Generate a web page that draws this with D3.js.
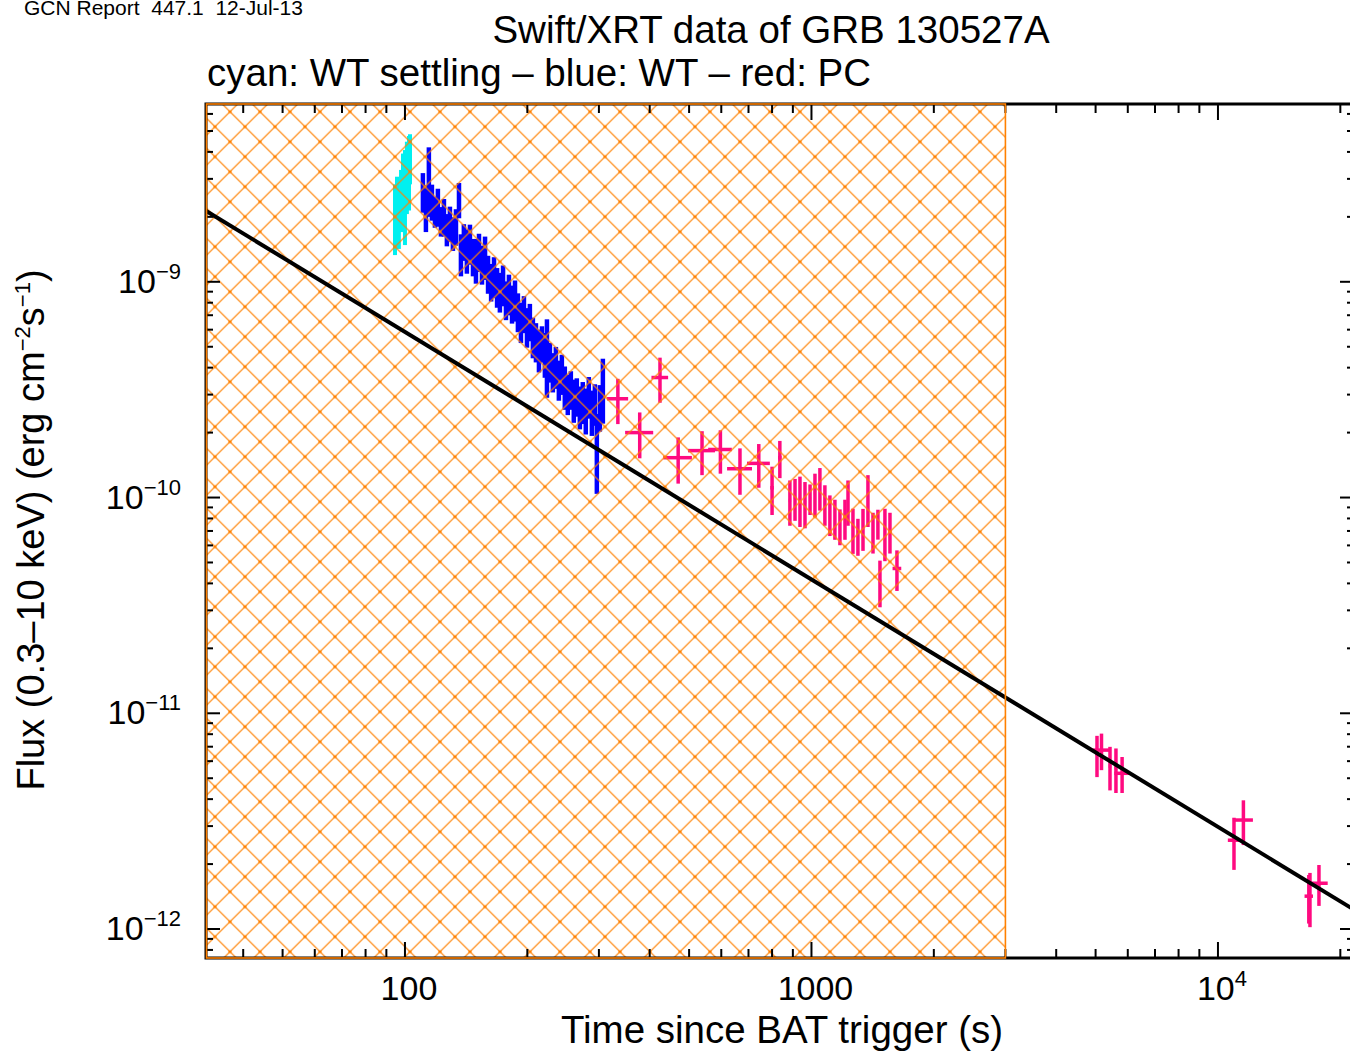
<!DOCTYPE html>
<html>
<head>
<meta charset="utf-8">
<script src="https://cdnjs.cloudflare.com/ajax/libs/d3/7.8.5/d3.min.js"></script>
<style>
  body { margin: 0; background: #ffffff; }
  svg { display: block; font-family: "Liberation Sans", Arial, sans-serif; }
</style>
</head>
<body>
<div id="chart"></div>
<script>
// WT settling (cyan)
const cyanTime = [94.5, 95.6, 96.6, 97.8, 98.9, 100.0, 101.1, 102.3, 102.9];
const cyanFlux = [2.08e-9, 2.37e-9, 2.02e-9, 2.50e-9, 2.93e-9, 2.78e-9, 3.26e-9, 3.44e-9, 3.83e-9];
const cyanErr = [0.75e-9, 0.7e-9, 0.6e-9, 0.8e-9, 1.0e-9, 1.3e-9, 1.2e-9, 1.3e-9, 1.0e-9];

// WT (blue)
const blueTime = [110.7, 112.6, 114.5, 116.5, 118.5, 120.5, 122.6, 124.7, 126.8, 129.0, 131.2, 133.5, 135.8, 137.3, 139.6,
    142.0, 144.5, 147.0, 149.5, 152.1, 154.7, 157.4, 160.1, 162.9, 165.6, 168.5, 171.2, 174.3, 177.2, 180.2, 183.4,
    186.5, 189.6, 192.9, 196.2, 199.6, 202.9, 206.4, 210.0, 213.6, 217.3, 220.9, 223.5, 227.3, 231.1, 235.1, 239.1,
    243.2, 247.3, 251.5, 255.9, 260.2, 264.7, 269.3, 273.8, 278.5, 283.3, 288.3, 293.2, 296.5, 301.6, 306.8];
const blueFlux = [2.64e-9, 2.25e-9, 3.10e-9, 2.37e-9, 2.13e-9, 2.25e-9, 1.92e-9, 2.02e-9, 1.76e-9, 1.88e-9, 1.69e-9,
    1.82e-9, 2.42e-9, 1.36e-9, 1.55e-9, 1.42e-9, 1.52e-9, 1.32e-9, 1.28e-9, 1.39e-9, 1.22e-9, 1.32e-9, 1.10e-9,
    1.01e-9, 1.07e-9, 9.58e-10, 9.1e-10, 9.8e-10, 8.34e-10, 8.89e-10, 8.0e-10, 8.34e-10, 7.34e-10, 6.6e-10, 7.18e-10,
    6.25e-10, 6.6e-10, 5.62e-10, 5.33e-10, 4.90e-10, 5.22e-10, 4.69e-10, 4.8e-10, 4.31e-10, 3.87e-10, 4.09e-10,
    3.56e-10, 3.79e-10, 3.30e-10, 3.06e-10, 3.20e-10, 2.87e-10, 2.97e-10, 2.67e-10, 2.81e-10, 2.58e-10, 2.97e-10,
    2.53e-10, 2.75e-10, 1.74e-10, 2.67e-10, 3.30e-10];
const blueErr = [0.55e-9, 0.55e-9, 1.1e-9, 0.45e-9, 0.35e-9, 0.45e-9, 0.3e-9, 0.4e-9, 0.3e-9, 0.35e-9, 0.3e-9, 0.35e-9,
    0.45e-9, 0.3e-9, 0.3e-9, 0.33e-9, 0.32e-9, 0.26e-9, 0.3e-9, 0.28e-9, 0.25e-9, 0.3e-9, 0.22e-9, 0.2e-9, 0.23e-9,
    2.0e-10, 1.9e-10, 2.1e-10, 1.7e-10, 1.9e-10, 1.6e-10, 1.8e-10, 1.5e-10, 1.4e-10, 1.4e-10, 1.3e-10, 1.3e-10,
    1.2e-10, 1.1e-10, 1.1e-10, 1.0e-10, 1.1e-10, 1.9e-10, 0.9e-10, 0.8e-10, 0.9e-10, 0.75e-10, 0.8e-10, 0.75e-10,
    0.65e-10, 0.65e-10, 0.65e-10, 0.6e-10, 0.6e-10, 0.62e-10, 0.62e-10, 0.65e-10, 0.6e-10, 0.6e-10, 0.7e-10,
    0.65e-10, 1.1e-10];

// PC (red)
const pcTime = [334, 424, 378, 470, 538, 597, 667, 742, 800, 836,
    885, 911, 937, 964, 992, 1020, 1049, 1079, 1110, 1142, 1175, 1209, 1230, 1265, 1301, 1339, 1377, 1417,
    1474, 1457, 1516, 1560, 1623,
    5040, 5170, 5425, 5611, 5810, 10950, 11550, 16840, 16730, 17720];
const pcTimeErr = [20, 20, 30, 38, 41, 40, 47, 48, 8, 8,
    6, 6, 6, 6, 6, 6, 6, 6, 6, 6, 6, 6, 6, 6, 6, 6, 6, 6,
    10, 6, 6, 6, 40,
    40, 250, 40, 40, 250, 375, 640, 60, 400, 900];
const pcFlux = [2.87e-10, 3.60e-10, 2.00e-10, 1.53e-10, 1.65e-10, 1.67e-10, 1.36e-10, 1.44e-10, 1.11e-10, 1.53e-10,
    9.7e-11, 1.0e-10, 9.9e-11, 9.5e-11, 9.9e-11, 1.05e-10, 1.12e-10, 9.4e-11, 8.43e-11, 8.07e-11, 7.41e-11, 8.07e-11,
    9.7e-11, 7.18e-11, 6.67e-11, 7.26e-11, 1.0e-10, 7.0e-11,
    4.1e-11, 7.58e-11, 6.97e-11, 7.0e-11, 4.69e-11,
    6.46e-12, 6.75e-12, 5.69e-12, 5.57e-12, 5.27e-12, 2.58e-12, 3.2e-12, 1.42e-12, 1.42e-12, 1.63e-12];
const pcFluxErr = [0.68e-10, 0.85e-10, 0.48e-10, 0.37e-10, 0.38e-10, 0.38e-10, 0.33e-10, 0.33e-10, 0.28e-10, 0.30e-10,
    2.3e-11, 2.2e-11, 2.6e-11, 2.3e-11, 1.6e-11, 2.4e-11, 2.5e-11, 2.0e-11, 1.8e-11, 1.7e-11, 1.4e-11, 1.7e-11,
    2.3e-11, 1.7e-11, 1.3e-11, 1.6e-11, 2.7e-11, 1.5e-11,
    1.0e-11, 1.2e-11, 1.9e-11, 1.5e-11, 1.0e-11,
    1.4e-12, 1.3e-12, 1.3e-12, 1.3e-12, 1.0e-12, 0.7e-12, 0.75e-12, 0.4e-12, 0.36e-12, 0.35e-12];

// power-law fit
const fitTime = [30, 25000];
const fitFlux = [2.33e-9, 1.04e-12];

// hatched interval
const hatchEnd = 3000;

// axis ranges and tick labels
const timeDomain = [32.4, 21610];
const fluxDomain = [7.34e-13, 6.67e-9];
const xTickLabels = [[100, "100", ""], [1000, "1000", ""], [10000, "10", "4"]];
const yTickLabels = [[1e-9, "10", "\u22129"], [1e-10, "10", "\u221210"], [1e-11, "10", "\u221211"], [1e-12, "10", "\u221212"]];

const options = {
    width: 1350,
    height: 1051,
    left: 206,
    right: 1354,
    top: 104,
    bottom: 958,
    hatchColor: "#ff8000",
    cyan: "#00f0f0",
    blue: "#0000ff",
    red: "#ff0a80"
};

const x = d3.scaleLog().domain(timeDomain).range([options.left, options.right]);
const y = d3.scaleLog().domain(fluxDomain).range([options.bottom, options.top]);

const svg = d3.select("#chart").append("svg")
    .attr("width", options.width)
    .attr("height", options.height);

const defs = svg.append("defs");
defs.append("clipPath").attr("id", "plotClip")
    .append("rect")
    .attr("x", options.left).attr("y", options.top)
    .attr("width", options.right - options.left)
    .attr("height", options.bottom - options.top);

const pattern = defs.append("pattern")
    .attr("id", "hatch")
    .attr("patternUnits", "userSpaceOnUse")
    .attr("x", 5).attr("y", 6.7)
    .attr("width", 30).attr("height", 30);
pattern.append("path")
    .attr("d", "M-1,-1L31,31M31,-1L-1,31")
    .attr("stroke", options.hatchColor)
    .attr("stroke-width", 1.3)
    .attr("stroke-opacity", 0.85);
pattern.append("circle").attr("cx", 15).attr("cy", 15).attr("r", 1.6).attr("fill", options.hatchColor);
pattern.selectAll(null)
    .data([[0, 0], [30, 0], [0, 30], [30, 30]])
    .join("circle")
    .attr("cx", d => d[0]).attr("cy", d => d[1])
    .attr("r", 1.6).attr("fill", options.hatchColor);

const plot = svg.append("g").attr("clip-path", "url(#plotClip)");

function drawErrorBars(group, times, timeErr, flux, fluxErr, color, width) {
    let pts = times.map((t, i) => ({ t, dt: timeErr[i], f: flux[i], df: fluxErr[i] }));
    group.selectAll(null)
        .data(pts)
        .join("line")
        .attr("x1", d => x(d.t)).attr("x2", d => x(d.t))
        .attr("y1", d => y(d.f + d.df))
        .attr("y2", d => y(Math.max(d.f - d.df, fluxDomain[0] * 0.5)))
        .attr("stroke", color)
        .attr("stroke-width", width);
    group.selectAll(null)
        .data(pts)
        .join("line")
        .attr("x1", d => x(d.t - d.dt)).attr("x2", d => x(d.t + d.dt))
        .attr("y1", d => y(d.f)).attr("y2", d => y(d.f))
        .attr("stroke", color)
        .attr("stroke-width", width);
}

drawErrorBars(plot.append("g"), cyanTime, cyanTime.map(() => 0.6), cyanFlux, cyanErr, options.cyan, 4);
drawErrorBars(plot.append("g"), blueTime, blueTime.map(() => 1.0), blueFlux, blueErr, options.blue, 4.5);
drawErrorBars(plot.append("g"), pcTime, pcTimeErr, pcFlux, pcFluxErr, options.red, 3.5);

// hatched region over the early data
plot.append("rect")
    .attr("x", options.left)
    .attr("y", options.top)
    .attr("width", x(hatchEnd) - options.left)
    .attr("height", options.bottom - options.top)
    .attr("fill", "url(#hatch)");

// fit line
plot.append("path")
    .datum(fitTime.map((t, i) => [t, fitFlux[i]]))
    .attr("d", d3.line().x(d => x(d[0])).y(d => y(d[1])))
    .attr("fill", "none")
    .attr("stroke", "#000")
    .attr("stroke-width", 4);

// axes frame
const axes = svg.append("g").attr("stroke", "#000");
axes.append("rect")
    .attr("x", options.left).attr("y", options.top)
    .attr("width", options.right - options.left)
    .attr("height", options.bottom - options.top)
    .attr("fill", "none")
    .attr("stroke-width", 3);

const isMajor = v => Math.abs(Math.log10(v) - Math.round(Math.log10(v))) < 1e-6;

let xTicks = x.ticks();
axes.selectAll(null)
    .data(xTicks)
    .join("line")
    .attr("x1", d => x(d)).attr("x2", d => x(d))
    .attr("y1", options.bottom)
    .attr("y2", d => options.bottom - (isMajor(d) ? 16 : 9))
    .attr("stroke-width", 2);
axes.selectAll(null)
    .data(xTicks)
    .join("line")
    .attr("x1", d => x(d)).attr("x2", d => x(d))
    .attr("y1", options.top)
    .attr("y2", d => options.top + (isMajor(d) ? 16 : 9))
    .attr("stroke-width", 2);

let yTicks = y.ticks();
axes.selectAll(null)
    .data(yTicks)
    .join("line")
    .attr("y1", d => y(d)).attr("y2", d => y(d))
    .attr("x1", options.left)
    .attr("x2", d => options.left + (isMajor(d) ? 14 : 7))
    .attr("stroke-width", 2);
axes.selectAll(null)
    .data(yTicks)
    .join("line")
    .attr("y1", d => y(d)).attr("y2", d => y(d))
    .attr("x1", options.right)
    .attr("x2", d => options.right - (isMajor(d) ? 14 : 7))
    .attr("stroke-width", 2);

// hatch border on top of the axes
svg.append("rect")
    .attr("x", options.left + 0.5)
    .attr("y", options.top)
    .attr("width", x(hatchEnd) - options.left - 0.5)
    .attr("height", options.bottom - options.top)
    .attr("fill", "none")
    .attr("stroke", options.hatchColor)
    .attr("stroke-width", 1.6);

// tick labels
const xLab = svg.append("g").attr("font-size", 34).attr("text-anchor", "middle");
xTickLabels.forEach(([v, base, sup]) => {
    let t = xLab.append("text").attr("x", x(v) + (sup ? 4 : 4)).attr("y", 1000);
    t.append("tspan").text(base);
    if (sup) t.append("tspan").attr("dy", -14).attr("font-size", 22).text(sup);
});

const yLab = svg.append("g").attr("font-size", 34).attr("text-anchor", "end");
yTickLabels.forEach(([v, base, sup]) => {
    let t = yLab.append("text").attr("x", 181).attr("y", y(v) + 11);
    t.append("tspan").text(base);
    t.append("tspan").attr("dy", -14).attr("font-size", 22).text(sup);
});

// titles
svg.append("text")
    .attr("x", 24).attr("y", 15)
    .attr("font-size", 21)
    .attr("xml:space", "preserve")
    .text("GCN Report  447.1  12-Jul-13");

svg.append("text")
    .attr("x", 771).attr("y", 43)
    .attr("font-size", 38.5)
    .attr("text-anchor", "middle")
    .text("Swift/XRT data of GRB 130527A");

svg.append("text")
    .attr("x", 207).attr("y", 86)
    .attr("font-size", 38.5)
    .text("cyan: WT settling \u2013 blue: WT \u2013 red: PC");

svg.append("text")
    .attr("x", 782).attr("y", 1043)
    .attr("font-size", 38.5)
    .attr("text-anchor", "middle")
    .text("Time since BAT trigger (s)");

const yTitle = svg.append("text")
    .attr("transform", "translate(44,530) rotate(-90)")
    .attr("font-size", 38)
    .attr("text-anchor", "middle");
yTitle.append("tspan").text("Flux (0.3\u201310 keV) (erg cm");
yTitle.append("tspan").attr("dy", -14).attr("font-size", 22).text("\u22122");
yTitle.append("tspan").attr("dy", 14).text("s");
yTitle.append("tspan").attr("dy", -14).attr("font-size", 22).text("\u22121");
yTitle.append("tspan").attr("dy", 14).text(")");
</script>
</body>
</html>
